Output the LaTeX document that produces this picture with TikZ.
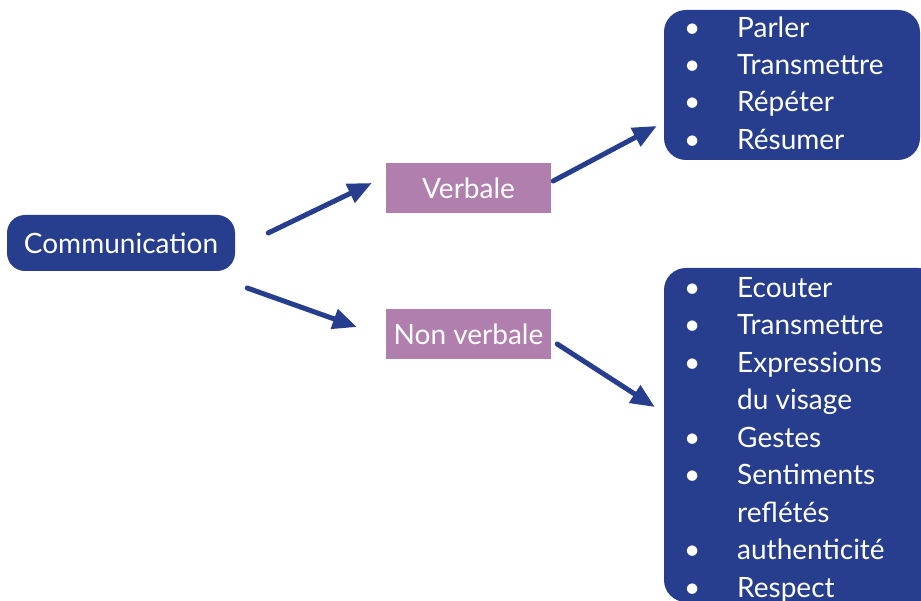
\documentclass[tikz,border=0pt]{standalone}
\usepackage{fontspec}
\setmainfont{Lato}
\usepackage{tikz}
\usetikzlibrary{arrows.meta,positioning,calc}
\definecolor{navy}{RGB}{38,62,141}
\definecolor{mauve}{RGB}{176,127,173}

\begin{document}
\begin{tikzpicture}[
    x=1pt, y=1pt,
    font=\fontsize{28}{37.3}\selectfont,
    main/.style={rectangle, rounded corners=18pt, fill=navy, text=white, inner sep=0pt, minimum width=228pt, minimum height=56pt},
    branch/.style={rectangle, fill=mauve, text=white, inner sep=0pt, minimum width=165pt, minimum height=50pt},
    listbox/.style={rectangle, rounded corners=22pt, fill=navy, inner sep=0pt},
    items/.style={anchor=north west, inner sep=0pt, text=white, align=left},
    arrow/.style={-{Triangle[length=24pt, width=20pt]}, line width=5pt, navy, line cap=round}
]
    \useasboundingbox (0,0) rectangle (921,600);

    % --- Left: root ---
    \node[main] (comm) at (121,357) {Communication};

    % --- Middle: the two kinds ---
    \node[branch] (verb) at (468.5,412) {Verbale};
    \node[branch] (nonverb) at (468.5,265.5) {Non verbale};

    % --- Right: verbal list ---
    \node[listbox, minimum width=256pt, minimum height=150pt] (verblist) at (792,515) {};
    \node[items] (verbitems) at (684,589.1) {%
        \begin{tabular}{@{}p{53pt}@{}l@{}}
        \textbullet & Parler\\
        \textbullet & Transmettre\\
        \textbullet & Répéter\\
        \textbullet & Résumer
        \end{tabular}};

    % --- Right: non verbal list (runs off the page) ---
    \node[listbox, minimum width=276pt, minimum height=334pt] (nonverblist) at (802,165) {};
    \node[items, font=\fontsize{28}{37.5}\selectfont] (nonverbitems) at (684,329.25) {%
        \begin{tabular}{@{}p{53pt}@{}l@{}}
        \textbullet & Ecouter\\
        \textbullet & Transmettre\\
        \textbullet & Expressions\\
                    & du visage\\
        \textbullet & Gestes\\
        \textbullet & Sentiments\\
                    & reflétés\\
        \textbullet & authenticité\\
        \textbullet & Respect
        \end{tabular}};

    % Arrows
    \draw[arrow] ([shift={(33,10)}]comm.east) -- ([shift={(-14,5)}]verb.west);
    \draw[arrow] ([shift={(12,-45)}]comm.east) -- ([shift={(-29,7.5)}]nonverb.west);
    \draw[arrow] ([shift={(2,7)}]verb.east) -- ([shift={(-7,-41)}]verblist.west);
    \draw[arrow] ([shift={(6,-9.5)}]nonverb.east) -- ([shift={(-9,28)}]nonverblist.west);

\end{tikzpicture}
\end{document}
